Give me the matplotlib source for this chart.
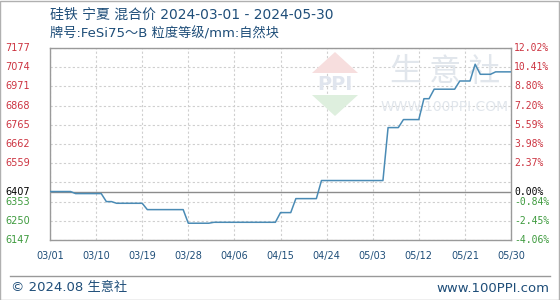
import numpy as np
import matplotlib
matplotlib.use("Agg")
import matplotlib.pyplot as plt
import matplotlib.transforms as mtrans
from matplotlib.patches import Rectangle, Polygon
from matplotlib.lines import Line2D

plt.rcParams['font.family'] = ['DejaVu Sans', 'Noto Sans CJK SC']

# ---------------- data ----------------
title_line1 = "硅铁 宁夏 混合价 2024-03-01 - 2024-05-30"
title_line2 = "牌号:FeSi75～B 粒度等级/mm:自然块"
dates = ["2024-03-01", "2024-03-05", "2024-03-06", "2024-03-11", "2024-03-12",
         "2024-03-13", "2024-03-14", "2024-03-19", "2024-03-20", "2024-03-27",
         "2024-03-28", "2024-04-01", "2024-04-02", "2024-04-14", "2024-04-15",
         "2024-04-17", "2024-04-18", "2024-04-22", "2024-04-23", "2024-05-05",
         "2024-05-06", "2024-05-08", "2024-05-09", "2024-05-12", "2024-05-13",
         "2024-05-14", "2024-05-15", "2024-05-19", "2024-05-20", "2024-05-22",
         "2024-05-23", "2024-05-24", "2024-05-26", "2024-05-27", "2024-05-30"]
prices = [6407, 6407, 6396, 6396, 6353,
          6353, 6344, 6344, 6310, 6310,
          6237, 6237, 6242, 6242, 6294,
          6294, 6369, 6369, 6466, 6466,
          6750, 6750, 6793, 6793, 6905,
          6905, 6956, 6956, 7000, 7000,
          7090, 7036, 7036, 7049, 7049]
base_price = 6407
y_ticks = [6147, 6250, 6353, 6559, 6662, 6765, 6868, 6971, 7074, 7177]
x_tick_labels = ["03/01", "03/10", "03/19", "03/28", "04/06", "04/15",
                 "04/24", "05/03", "05/12", "05/21", "05/30"]
start_date = "2024-03-01"
end_date = "2024-05-30"
copyright_text = "© 2024.08 生意社"
site_text = "www.100PPI.com"

# ---------------- derived ----------------
d = np.array(dates, dtype="datetime64[D]")
d0 = np.datetime64(start_date)
x = (d - d0).astype(int)
span = int((np.datetime64(end_date) - d0).astype(int))
x_tick_pos = np.linspace(0, span, len(x_tick_labels))

W, H = 560, 300
fig = plt.figure(figsize=(W / 100, H / 100), dpi=100)
fig.patch.set_facecolor("white")

def fx(px):
    return px / W

def fy(py):
    return 1 - py / H

ax_l, ax_r, ax_t, ax_b = 50, 511, 48, 240
ax = fig.add_axes([fx(ax_l), fy(ax_b), fx(ax_r - ax_l), (ax_b - ax_t) / H])
ymin, ymax = min(y_ticks), max(y_ticks)
ax.set_xlim(0, span)
ax.set_ylim(ymin, ymax)

red = "#cc3340"
green = "#3d9a3d"
blue_txt = "#1f4e79"
grid_c = "#cfcfcf"

# grid
for yt in y_ticks:
    ax.axhline(yt, color=grid_c, lw=0.8, ls=(0, (2, 2)), zorder=1)
ax.axhline(6456, color=grid_c, lw=0.8, ls=(0, (2, 2)), zorder=1)
for xt in x_tick_pos:
    ax.axvline(xt, color=grid_c, lw=0.8, ls=(0, (2, 2)), zorder=1)
ax.axhline(base_price, color="#8c8c8c", lw=1.0, zorder=2)

# watermark
wm = "#e1e6ec"
ax.add_patch(Polygon([[fx(312), fy(73)], [fx(358), fy(73)], [fx(335), fy(52)]],
                     closed=True, transform=fig.transFigure, facecolor="#f7dede",
                     edgecolor="none", zorder=1.5))
ax.add_patch(Polygon([[fx(312), fy(95)], [fx(358), fy(95)], [fx(335), fy(116)]],
                     closed=True, transform=fig.transFigure, facecolor="#deefde",
                     edgecolor="none", zorder=1.5))
ax.text(fx(335), fy(84), "PPI", transform=fig.transFigure, ha="center", va="center",
        fontsize=14, fontweight="bold", color="#e0e5ee", family=["DejaVu Sans"], zorder=1.6)
ax.text(fx(445), fy(72), "生 意 社", transform=fig.transFigure, ha="center", va="center",
        fontsize=23, color=wm, family=["Noto Sans CJK SC"], zorder=1.6)
ax.text(fx(445), fy(107), "WWW.100PPI.COM", transform=fig.transFigure, ha="center",
        va="center", fontsize=10, color=wm, family=["DejaVu Sans"], zorder=1.6)

# line
ax.plot(x, prices, color="#4a8bb5", lw=1.1, zorder=3)

# spines
for s in ax.spines.values():
    s.set_color("#9a9a9a")
    s.set_linewidth(1.0)

ax.set_yticks([])
ax.set_xticks(x_tick_pos)
ax.set_xticklabels(x_tick_labels, fontsize=7, color=blue_txt, family=["DejaVu Sans"])
ax.tick_params(axis="x", length=0, pad=8)

# left & right labels
blend = mtrans.blended_transform_factory(fig.transFigure, ax.transData)
all_left = sorted(y_ticks + [base_price])
for v in all_left:
    c = red if v > base_price else (green if v < base_price else "black")
    ax.text(fx(5), v, str(v), transform=blend, ha="left", va="center", fontsize=7,
            color=c, family=["DejaVu Sans"])
    pct = (v - base_price) / base_price * 100
    ax.text(fx(514), v, f"{pct:.2f}%", transform=blend, ha="left", va="center",
            fontsize=7, color=c, family=["DejaVu Sans Mono"])

# titles
fig.text(fx(50), fy(15), title_line1, ha="left", va="center", fontsize=10, color=blue_txt)
fig.text(fx(50), fy(34), title_line2, ha="left", va="center", fontsize=9.5, color=blue_txt)

# footer
fig.add_artist(Line2D([fx(10), fx(550)], [fy(276), fy(276)], color="#999999", lw=1))
fig.text(fx(11), fy(288), copyright_text, ha="left", va="center", fontsize=9.5, color=blue_txt)
fig.text(fx(549), fy(288), site_text, ha="right", va="center", fontsize=9.5, color=blue_txt)

# outer border
fig.add_artist(Rectangle((0.0005, 0.001), 0.998, 0.997, transform=fig.transFigure,
                         fill=False, edgecolor="#b0b0b0", lw=1))

fig.savefig("out.png", dpi=100)
